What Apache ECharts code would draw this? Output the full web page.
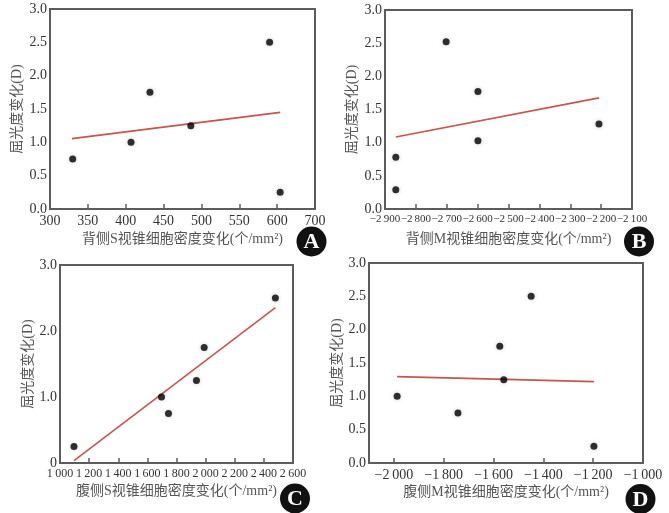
<!DOCTYPE html>
<html><head><meta charset="utf-8">
<script src="https://cdn.jsdelivr.net/npm/echarts@6/dist/echarts.min.js"></script>
<style>html,body{margin:0;padding:0;background:#fff}#c{width:669px;height:513px}</style>
</head><body><div id="c"></div>
<script>
// ---- data ----
var yName = '屈光度变化(D)';
var aName = '背侧S视锥细胞密度变化(个/mm²)';
var bName = '背侧M视锥细胞密度变化(个/mm²)';
var cName = '腹侧S视锥细胞密度变化(个/mm²)';
var dName = '腹侧M视锥细胞密度变化(个/mm²)';

var A_x = [330, 407, 432, 486, 590, 604];
var A_y = [0.75, 1.0, 1.75, 1.25, 2.5, 0.25];
var A_trend_x = [329, 604];
var A_trend_y = [1.055, 1.45];

var B_x = [-2865, -2865, -2702, -2599, -2599, -2207];
var B_y = [0.78, 0.29, 2.52, 1.77, 1.03, 1.28];
var B_trend_x = [-2865, -2207];
var B_trend_y = [1.085, 1.675];

var C_x = [1096, 1697, 1745, 1937, 1990, 2479];
var C_y = [0.25, 1.0, 0.75, 1.25, 1.75, 2.5];
var C_trend_x = [1096, 2479];
var C_trend_y = [0.035, 2.355];

var D_x = [-1987, -1743, -1575, -1559, -1449, -1197];
var D_y = [1.0, 0.75, 1.75, 1.25, 2.5, 0.25];
var D_trend_x = [-1987, -1197];
var D_trend_y = [1.295, 1.22];

// tick labels
var A_xTicks = [300, 350, 400, 450, 500, 550, 600, 650];
var A_xTickLabels = ['300', '350', '400', '450', '500', '550', '600', '700'];
var B_xTicks = [-2900, -2800, -2700, -2600, -2500, -2400, -2300, -2200, -2100];
var C_xTicks = [1000, 1200, 1400, 1600, 1800, 2000, 2200, 2400, 2600];
var D_xTicks = [-2000, -1800, -1600, -1400, -1200, -1000];
var panelLetters = ['A', 'B', 'C', 'D'];

// ---- helpers ----
function pairs(xs, ys) { return xs.map(function (x, i) { return [x, ys[i]]; }); }
function fmtNum(v) {
  var a = Math.abs(v), s = String(a);
  if (a >= 1000) s = Math.floor(a / 1000) + '\u2009' + String(a % 1000).padStart(3, '0');
  return (v < 0 ? '\u2212' : '') + s;
}
var GRAY = '#5c5c5c';
var SERIF = '"Liberation Serif","Noto Sans CJK SC",serif';
var NAMEFONT = '"Liberation Serif","Noto Sans CJK SC",serif';

var grids = [
  {left: 50, top: 9, width: 265, height: 200},
  {left: 385, top: 10, width: 247, height: 199},
  {left: 60, top: 265, width: 233, height: 198},
  {left: 369, top: 263, width: 274, height: 200}
];
grids.forEach(function (g) { g.show = true; g.borderColor = GRAY; g.borderWidth = 2; g.backgroundColor = 'transparent'; });

function xAxis(i, min, max, ticks, fmt, fontSize, name, nameGap) {
  return {
    type: 'value', gridIndex: i, min: min, max: max,
    name: name, nameLocation: 'middle', nameGap: nameGap,
    nameTextStyle: {fontFamily: NAMEFONT, fontSize: 14, color: '#555'},
    axisLine: {show: false}, splitLine: {show: false},
    axisTick: {show: true, inside: true, length: 5, customValues: ticks, lineStyle: {color: GRAY, width: 1.5}},
    axisLabel: {customValues: ticks, formatter: fmt, fontFamily: SERIF, fontSize: fontSize, color: '#333', margin: 5,
      showMinLabel: true, showMaxLabel: true, hideOverlap: false}
  };
}
function yAxis(i, interval, fmt, nameGap) {
  return {
    type: 'value', gridIndex: i, min: 0, max: 3, interval: interval,
    name: yName, nameLocation: 'middle', nameGap: nameGap, nameRotate: 90,
    nameTextStyle: {fontFamily: NAMEFONT, fontSize: 14, color: '#555'},
    axisLine: {show: false}, splitLine: {show: false}, axisTick: {show: false},
    axisLabel: {formatter: fmt, fontFamily: SERIF, fontSize: 14, color: '#333', margin: 3}
  };
}
var y1 = function (v) { return v.toFixed(1); };
var yC = function (v) { return v === 0 ? '0' : v.toFixed(1); };

function scatter(i, xs, ys) {
  return {type: 'scatter', xAxisIndex: i, yAxisIndex: i, data: pairs(xs, ys), symbolSize: 7,
    itemStyle: {color: '#000', shadowBlur: 4, shadowColor: 'rgba(0,0,0,0.25)'}, z: 3};
}
function trend(i, xs, ys) {
  return {type: 'line', xAxisIndex: i, yAxisIndex: i, data: pairs(xs, ys), showSymbol: false,
    lineStyle: {color: '#c8544c', width: 1.6}, z: 2};
}
function badge(letter, x, y) {
  return {type: 'group', x: x, y: y, children: [
    {type: 'circle', shape: {cx: 0, cy: 0, r: 15}, style: {fill: '#111'}},
    {type: 'text', x: 0, y: 1, style: {text: letter, fill: '#fff', font: 'bold 22px "Liberation Serif"', align: 'center', verticalAlign: 'middle'}}
  ]};
}

var option = {
  animation: false,
  backgroundColor: '#fff',
  grid: grids,
  xAxis: [
    xAxis(0, 300, 650, A_xTicks, function (v) { return A_xTickLabels[A_xTicks.indexOf(v)]; }, 14, aName, 23),
    xAxis(1, -2900, -2100, B_xTicks, fmtNum, 11, bName, 23),
    xAxis(2, 1000, 2600, C_xTicks, fmtNum, 12, cName, 21),
    xAxis(3, -2100, -1000, D_xTicks, fmtNum, 14, dName, 22)
  ],
  yAxis: [yAxis(0, 0.5, y1, 26), yAxis(1, 0.5, y1, 26), yAxis(2, 1, yC, 25), yAxis(3, 0.5, y1, 25)],
  series: [
    trend(0, A_trend_x, A_trend_y), scatter(0, A_x, A_y),
    trend(1, B_trend_x, B_trend_y), scatter(1, B_x, B_y),
    trend(2, C_trend_x, C_trend_y), scatter(2, C_x, C_y),
    trend(3, D_trend_x, D_trend_y), scatter(3, D_x, D_y)
  ],
  graphic: [
    badge(panelLetters[0], 311.5, 241.5),
    badge(panelLetters[1], 639, 241.5),
    badge(panelLetters[2], 295, 498.5),
    badge(panelLetters[3], 640.5, 499)
  ]
};
var chart = echarts.init(document.getElementById('c'), null, {renderer: 'canvas'});
chart.setOption(option);
</script>
</body></html>
